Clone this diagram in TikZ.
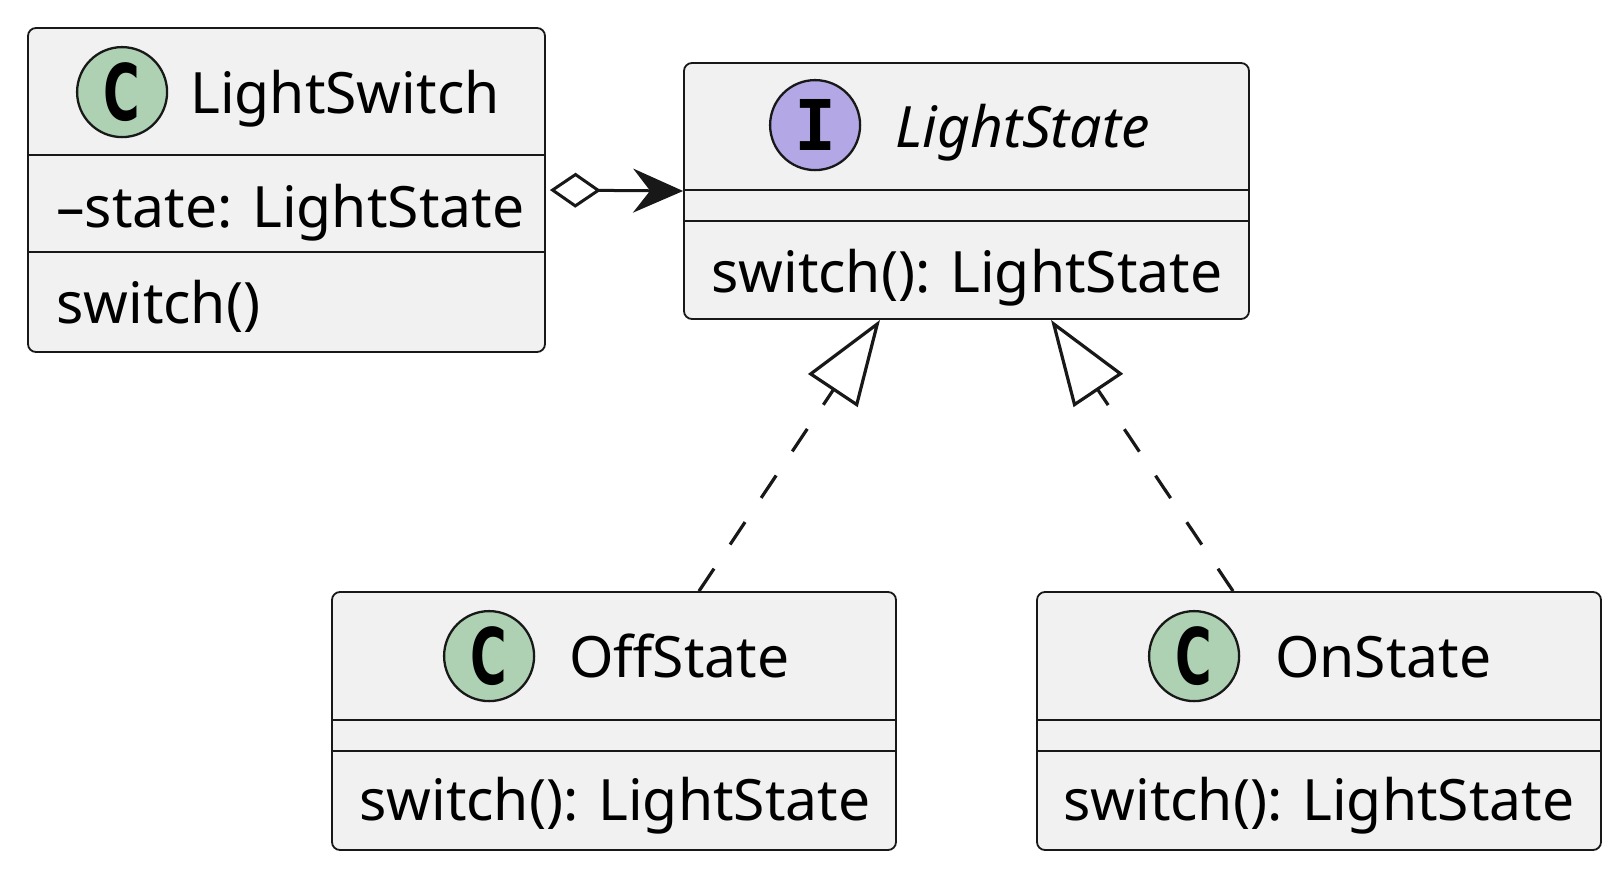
\documentclass[tikz,border=0pt]{standalone}
\usepackage{fontspec}
\setmainfont{Noto Sans}
\newfontfamily\badgefont{DejaVu Sans}[FakeStretch=0.64]
\newfontfamily\ifacefont{DejaVu Sans Mono}
\usetikzlibrary{arrows.meta, positioning, calc}
\definecolor{boxfill}{RGB}{241,241,241}
\definecolor{boxline}{RGB}{24,24,24}
\definecolor{classcol}{RGB}{173,209,178}
\definecolor{ifacecol}{RGB}{180,167,229}

\begin{document}
\begin{tikzpicture}[x=1pt, y=-1pt,
  classbox/.style={rectangle, rounded corners=8pt, draw=boxline, line width=1.8pt,
                   fill=boxfill, minimum height=258pt, inner sep=0pt},
  badge/.style={circle, draw=boxline, line width=2.3pt, minimum size=90pt,
                inner sep=0pt, fill=classcol},
  title/.style={anchor=base west, inner sep=0pt, font=\fontsize{57}{60}\selectfont},
  member/.style={anchor=base west, inner sep=0pt, font=\fontsize{57}{60}\selectfont},
  sep/.style={draw=boxline, line width=1.8pt},
  aggr/.style={line width=3pt, draw=boxline, shorten <=4pt,
               {Diamond[open, length=51pt, width=35pt]}-{Stealth[length=50pt, width=44pt, inset=17pt]}},
  realize/.style={line width=3.2pt, draw=boxline, dash pattern=on 27pt off 29pt,
                  -{Triangle[open, length=85pt, width=59pt]}}
]
\useasboundingbox (0,0) rectangle (1624,873);

% class boxes
\node[classbox, minimum width=517pt, minimum height=324pt] (lsw) at (286.5,190) {};
\node[classbox, minimum width=565pt, minimum height=256pt] (lst) at (966.5,191) {};
\node[classbox, minimum width=564pt] (off) at (614,721) {};
\node[classbox, minimum width=564pt] (on) at (1319,721) {};

% compartment lines
\foreach \n/\a/\b in {lsw/128/225, lst/128/159, off/129/160, on/129/160} {
  \draw[sep] ([yshift=-\a]\n.north west) -- ([yshift=-\a]\n.north east);
  \draw[sep] ([yshift=-\b]\n.north west) -- ([yshift=-\b]\n.north east);
}

% stereotype circles
\node[badge] (lswC) at ($(lsw.north west)+(95,65)$)
    {\badgefont\bfseries\fontsize{78}{78}\selectfont C};
\node[badge, fill=ifacecol] (lstI) at ($(lst.north west)+(132,63)$)
    {\ifacefont\bfseries\fontsize{70}{70}\selectfont I};
\node[badge] (offC) at ($(off.north west)+(158,65)$)
    {\badgefont\bfseries\fontsize{78}{78}\selectfont C};
\node[badge] (onC) at ($(on.north west)+(158,65)$)
    {\badgefont\bfseries\fontsize{78}{78}\selectfont C};

% names
\node[title] (lswName) at (190,113) {LightSwitch};
\node[title] (lstName) at (895,147) {\itshape LightState};
\node[title] (offName) at (569,677) {OffState};
\node[title] (onName) at (1275,677) {OnState};

% members
\node[member] (lswAttr) at (56,227) {\textendash state: LightState};
\node[member] (lswOp) at (56,323) {switch()};
\node[member] (lstOp) at (711,292) {switch(): LightState};
\node[member] (offOp) at (359,820) {switch(): LightState};
\node[member] (onOp) at (1063,820) {switch(): LightState};

% relations
\draw[aggr] (lsw.east) -- (lst.west);
\draw[realize] ([xshift=85]off.north) -- ([xshift=-86.5]lst.south);
\draw[realize] ([xshift=-86]on.north) -- ([xshift=84.5]lst.south);
\end{tikzpicture}
\end{document}
